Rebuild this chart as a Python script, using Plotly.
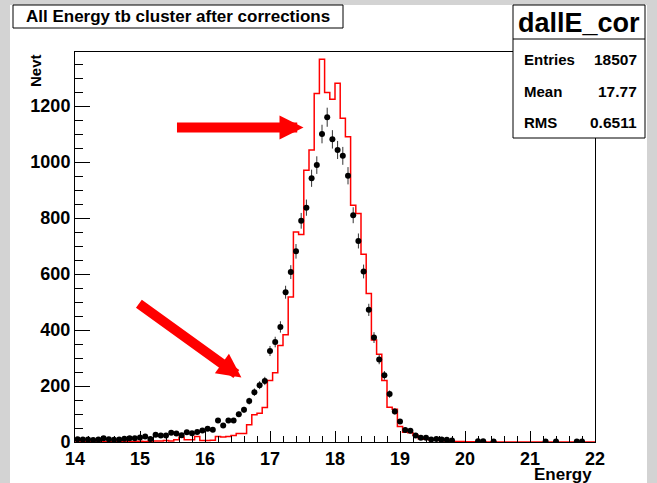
import numpy as np
import plotly.graph_objects as go

# ---- data ----
x_min, x_max, n_bins = 14.0, 22.0, 100

black_counts = [10, 9, 9, 7, 9, 13, 10, 8, 9, 12,
                13, 13, 16, 20, 11, 26, 23, 23, 33, 30,
                24, 35, 31, 36, 41, 47, 44, 77, 59, 77,
                77, 99, 115, 146, 178, 203, 218, 325, 357, 411,
                535, 607, 681, 790, 837, 942, 989, 1100, 1160, 1081,
                1043, 1022, 951, 810, 718, 609, 472, 373, 295, 238,
                171, 109, 73, 43, 40, 23, 15, 15, 9, 11,
                9, 8, 5, 0, 0, 0, 0, 3, 3, 0,
                2, 0, 0, 0, 0, 0, 0, 0, 0, 0,
                2, 0, 2, 0, 0, 0, 2, 2, 0, 0]

red_counts = [0, 1, 0, 1, 0, 1, 1, 0, 1, 1,
              2, 1, 3, 2, 3, 4, 4, 5, 4, 8,
              17, 8, 8, 20, 5, 5, 6, 20, 18, 20,
              23, 30, 30, 62, 97, 103, 123, 220, 247, 345,
              383, 518, 750, 741, 971, 1043, 1245, 1367, 1248, 1224,
              1281, 1156, 1090, 846, 816, 671, 530, 364, 313, 220,
              124, 117, 55, 35, 33, 24, 12, 10, 7, 6,
              5, 4, 3, 2, 2, 1, 1, 1, 1, 0,
              1, 0, 0, 0, 0, 0, 0, 0, 0, 0,
              0, 0, 0, 0, 0, 0, 0, 0, 0, 0]

x_tick_vals = [14, 15, 16, 17, 18, 19, 20, 21, 22]
y_tick_vals = [0, 200, 400, 600, 800, 1000, 1200]
y_max = 1393

title_text = "All Energy tb cluster after corrections"
stats_name = "dallE_cor"
stats_rows = [("Entries", "18507"), ("Mean", "17.77"), ("RMS", "0.6511")]

# ---- derived ----
edges = np.linspace(x_min, x_max, n_bins + 1)
centers = 0.5 * (edges[:-1] + edges[1:])
black = np.array(black_counts, dtype=float)
nz = black > 0

# pixel -> paper helpers (figure 657x483, plot area 75..595 x 52..442)
W, H = 657, 483
L, R, T, B = 75, 62, 52, 41
PW, PH = W - L - R, H - T - B
def px(x):
    return (x - L) / PW
def py(y):
    return (H - B - y) / PH

FONT = "Liberation Sans, Arial, Helvetica, sans-serif"

fig = go.Figure()

fig.add_trace(go.Scatter(
    x=edges, y=list(red_counts) + [red_counts[-1]],
    mode="lines", line=dict(shape="hv", color="#ff0000", width=1.5),
    hoverinfo="skip", showlegend=False))

fig.add_trace(go.Scatter(
    x=centers[nz], y=black[nz], mode="markers",
    marker=dict(size=6, color="black"),
    error_y=dict(type="data", array=np.sqrt(black[nz]), width=0,
                 thickness=1, color="#333333"),
    showlegend=False))

shapes = [
    dict(type="rect", xref="paper", yref="paper",
         x0=px(10), x1=px(647), y0=py(490), y1=py(5),
         fillcolor="white", line=dict(width=0), layer="below"),
    dict(type="rect", xref="paper", yref="paper",
         x0=px(13), x1=px(343), y0=py(28), y1=py(5),
         fillcolor="white", line=dict(color="black", width=1), layer="above"),
    dict(type="rect", xref="paper", yref="paper",
         x0=px(513), x1=px(645), y0=py(138), y1=py(5),
         fillcolor="white", line=dict(color="black", width=1), layer="above"),
    dict(type="line", xref="paper", yref="paper",
         x0=px(513), x1=px(645), y0=py(39), y1=py(39),
         line=dict(color="black", width=1), layer="above"),
]

ann = [
    dict(text="<b>%s</b>" % title_text, x=px(178), y=py(16.5),
         font=dict(size=17)),
    dict(text=stats_name, x=px(579), y=py(22.5),
         font=dict(size=27, weight="bold")),
    dict(text="<b>Nevt</b>", x=px(35), y=py(71), textangle=-90,
         font=dict(size=15)),
    dict(text="<b>Energy</b>", x=px(594), y=py(474), xanchor="right",
         font=dict(size=17)),
]
for k, (lab, val) in enumerate(stats_rows):
    yy = 59.5 + 31.5 * k
    ann.append(dict(text="<b>%s</b>" % lab, x=px(522), y=py(yy),
                    xanchor="left", font=dict(size=15)))
    ann.append(dict(text="<b>%s</b>" % val, x=px(639), y=py(yy),
                    xanchor="right", font=dict(size=15.5)))
for a in ann:
    a.update(xref="paper", yref="paper", showarrow=False)
    a.setdefault("xanchor", "center")
    a["yanchor"] = "middle"
    a["font"].update(family=FONT, color="black")

# red arrows
ann.append(dict(x=17.515, y=1123, xref="x", yref="y", ax=-128, ay=0,
                showarrow=True, arrowhead=2, arrowsize=0.48,
                arrowwidth=10, arrowcolor="#ff0000", text=""))
ann.append(dict(x=16.56, y=230, xref="x", yref="y", ax=-104, ay=-75,
                showarrow=True, arrowhead=2, arrowsize=0.48,
                arrowwidth=10, arrowcolor="#ff0000", text=""))

axis_common = dict(
    showline=True, linecolor="black", linewidth=1, mirror=True,
    showgrid=False, zeroline=False, ticks="inside", tickcolor="black",
    tickwidth=1)

fig.update_layout(
    width=W, height=H,
    margin=dict(l=L, r=R, t=T, b=B, pad=0),
    paper_bgcolor="#d3d3d3", plot_bgcolor="white",
    shapes=shapes, annotations=ann, showlegend=False,
    xaxis=dict(range=[x_min, x_max], tickvals=x_tick_vals, ticklen=11,
               tickfont=dict(family=FONT, size=18, color="black",
                             weight="bold"),
               minor=dict(ticks="inside", ticklen=6, dtick=0.2,
                          tick0=x_min, tickcolor="black", showgrid=False),
               **axis_common),
    yaxis=dict(range=[0, y_max], tickvals=y_tick_vals, ticklen=15,
               tickfont=dict(family=FONT, size=18, color="black",
                             weight="bold"),
               minor=dict(ticks="inside", ticklen=8, dtick=50, tick0=0,
                          tickcolor="black", showgrid=False),
               **axis_common),
)

fig.write_html("out.html")
